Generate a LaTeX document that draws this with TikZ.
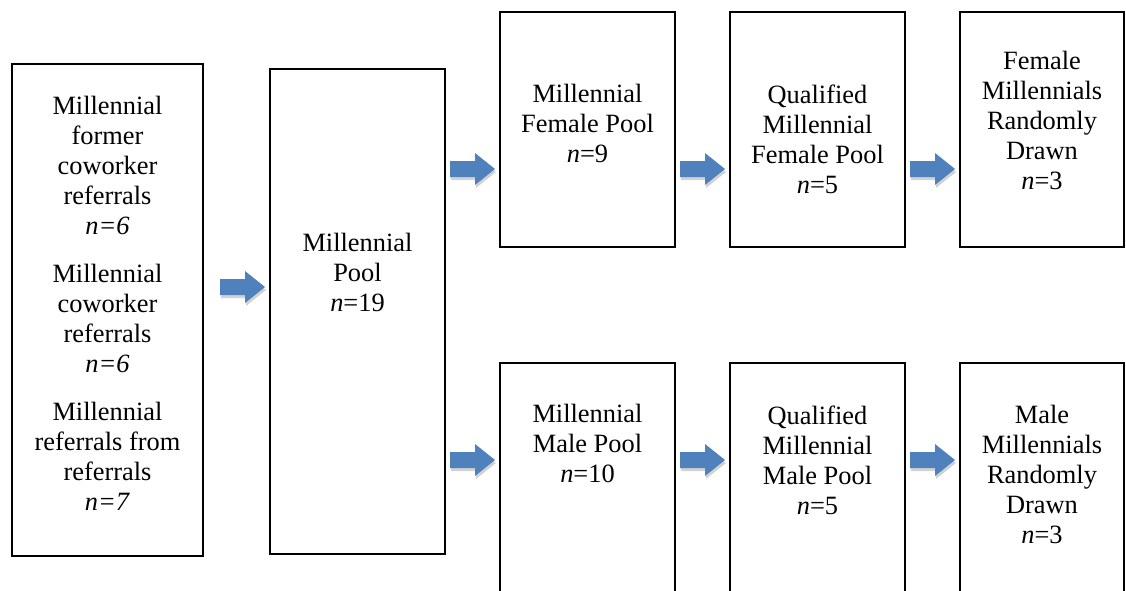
\documentclass[tikz,border=0pt]{standalone}
\usepackage{fontspec}
\setmainfont{Liberation Serif}
\usetikzlibrary{positioning}
\definecolor{arrowblue}{HTML}{4F81BD}
% block arrow centred on a named coordinate
\newcommand{\blockarrow}[1]{%
  \fill[gray!35,shift={(#1)}] (-21,-5) -- (4,-5) -- (4,-13) -- (24,3) -- (4,19) -- (4,11) -- (-21,11) -- cycle;
  \fill[arrowblue,shift={(#1)}] (-22,-8) -- (3,-8) -- (3,-16) -- (23,0) -- (3,16) -- (3,8) -- (-22,8) -- cycle;}

\begin{document}
\begin{tikzpicture}[x=0.5pt,y=-0.5pt,
  box/.style={draw,line width=1.1pt,inner sep=0pt},
  txt/.style={align=center,inner sep=0pt,font=\fontsize{13.2}{15}\selectfont}]
\useasboundingbox (0,0) rectangle (1126,590);
\clip (0,0) rectangle (1126,590);

% boxes
\node[box,minimum width=95.5pt,minimum height=246pt] (refs) at (107.5,310) {};
\node[box,minimum width=87.5pt,minimum height=242.5pt] (pool) at (357.5,311.5) {};
\node[box,minimum width=87.5pt,minimum height=117.5pt] (fpool) at (587.5,129.5) {};
\node[box,minimum width=87.5pt,minimum height=117.5pt] (fqual) at (817.5,129.5) {};
\node[box,minimum width=82pt,minimum height=117.5pt] (fdrawn) at (1042,129.5) {};
\node[box,minimum width=87.5pt,minimum height=118.5pt] (mpool) at (587.5,481.5) {};
\node[box,minimum width=87.5pt,minimum height=118.5pt] (mqual) at (817.5,481.5) {};
\node[box,minimum width=82pt,minimum height=118.5pt] (mdrawn) at (1042,481.5) {};

% texts
\node[txt] (refs-t) at (107.5,303) {Millennial\\former\\coworker\\referrals\\\textit{n=6}\\[9pt]
  Millennial\\coworker\\referrals\\\textit{n=6}\\[9pt]
  Millennial\\referrals from\\referrals\\\textit{n=7}};
\node[txt] (pool-t) at (357.5,272) {Millennial\\Pool\\\textit{n}=19};
\node[txt] (fpool-t) at (587.5,123) {Millennial\\Female Pool\\\textit{n}=9};
\node[txt] (fqual-t) at (817.5,139) {Qualified\\Millennial\\Female Pool\\\textit{n}=5};
\node[txt] (fdrawn-t) at (1042,120) {Female\\Millennials\\Randomly\\Drawn\\\textit{n}=3};
\node[txt] (mpool-t) at (587.5,443) {Millennial\\Male Pool\\\textit{n}=10};
\node[txt] (mqual-t) at (817.5,460) {Qualified\\Millennial\\Male Pool\\\textit{n}=5};
\node[txt] (mdrawn-t) at (1042,474) {Male\\Millennials\\Randomly\\Drawn\\\textit{n}=3};

% arrows
\coordinate (a0) at (242,287);
\coordinate (a1) at (472,169);
\coordinate (a2) at (702,169);
\coordinate (a3) at (932,169);
\coordinate (a4) at (472,460);
\coordinate (a5) at (702,460);
\coordinate (a6) at (932,460);
\foreach \a in {a0,a1,a2,a3,a4,a5,a6} {\blockarrow{\a}}
\end{tikzpicture}
\end{document}
